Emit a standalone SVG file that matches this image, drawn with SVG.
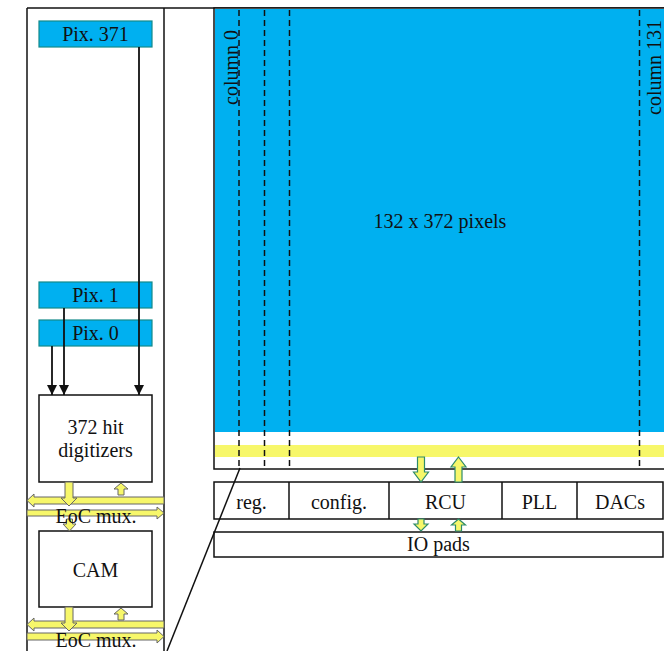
<svg xmlns="http://www.w3.org/2000/svg" width="664" height="651" viewBox="0 0 664 651">
<defs>
<style>
.t{font-family:"Liberation Serif","Times New Roman",serif;font-size:20px;fill:#111;text-anchor:middle}
.rot{font-family:"Liberation Serif","Times New Roman",serif;font-size:20px;fill:#111}
.ln{stroke:#111;stroke-width:1.5;fill:none}
.box{fill:#fff;stroke:#111;stroke-width:1.5}
.pix{fill:#00b0f0;stroke:#138a8a;stroke-width:1.2}
.dash{stroke:#111;stroke-width:1.5;stroke-dasharray:6 4;fill:none}
.ya{fill:#f7f76a;stroke:#666;stroke-width:1}
.ga{fill:#f7f76a;stroke:#2e8b6a;stroke-width:1.2}
.wire{stroke:#111;stroke-width:1.8;fill:none}
</style>
<marker id="ah" viewBox="0 0 10 10" refX="10" refY="5" markerWidth="10" markerHeight="10" markerUnits="userSpaceOnUse" orient="auto">
<path d="M0,0 L10,5 L0,10 z" fill="#111"/>
</marker>
</defs>
<rect width="664" height="651" fill="#fff"/>

<g id="frame">
<line class="ln" x1="27" y1="8" x2="664" y2="8"/>
<line class="ln" x1="27" y1="8" x2="27" y2="651"/>
<line class="ln" x1="164" y1="8" x2="164" y2="651"/>
</g>

<g id="pixel-array">
<rect x="214" y="8" width="452" height="461" fill="#fff" stroke="#111" stroke-width="1.5"/>
<rect x="215" y="9" width="450" height="423" fill="#00b0f0"/>
<rect x="215" y="445" width="450" height="12" fill="#f7f76a"/>
<line class="dash" x1="239" y1="10" x2="239" y2="468"/>
<line class="dash" x1="264.5" y1="10" x2="264.5" y2="468"/>
<line class="dash" x1="289.5" y1="10" x2="289.5" y2="468"/>
<line class="dash" x1="639.5" y1="10" x2="639.5" y2="468"/>
<text class="rot" transform="translate(238,105) rotate(-90)">column 0</text>
<text class="rot" transform="translate(661,115) rotate(-90)">column 131</text>
<text class="t" x="440" y="228">132 x 372 pixels</text>
</g>

<g id="periphery">
<rect class="box" x="214" y="482" width="449" height="37"/>
<line class="ln" x1="289" y1="482" x2="289" y2="519"/>
<line class="ln" x1="389" y1="482" x2="389" y2="519"/>
<line class="ln" x1="502" y1="482" x2="502" y2="519"/>
<line class="ln" x1="577" y1="482" x2="577" y2="519"/>
<text class="t" x="251.5" y="509">reg.</text>
<text class="t" x="339" y="509">config.</text>
<text class="t" x="445.5" y="509">RCU</text>
<text class="t" x="539.5" y="509">PLL</text>
<text class="t" x="620" y="509">DACs</text>
</g>

<g id="io-pads">
<rect class="box" x="214" y="532" width="449" height="25"/>
<text class="t" x="438.5" y="551">IO pads</text>
</g>

<g id="pix371">
<rect class="pix" x="39" y="21" width="113" height="26"/>
<text class="t" x="95.5" y="41">Pix. 371</text>
</g>
<g id="pix1">
<rect class="pix" x="39" y="282" width="113" height="26"/>
<text class="t" x="95.5" y="302">Pix. 1</text>
</g>
<g id="pix0">
<rect class="pix" x="39" y="320" width="113" height="26"/>
<text class="t" x="95.5" y="340">Pix. 0</text>
</g>
<g id="digitizers">
<rect class="box" x="39" y="395" width="113" height="87"/>
<text class="t" x="95.5" y="434">372 hit</text>
<text class="t" x="95.5" y="457">digitizers</text>
</g>
<g id="cam">
<rect class="box" x="39" y="531" width="113" height="76"/>
<text class="t" x="95.5" y="577">CAM</text>
</g>

<g id="connectors">
<line class="wire" x1="139" y1="47" x2="139" y2="395" marker-end="url(#ah)"/>
<line class="wire" x1="64" y1="308" x2="64" y2="395" marker-end="url(#ah)"/>
<line class="wire" x1="52" y1="346" x2="52" y2="395" marker-end="url(#ah)"/>
<line class="ln" x1="240" y1="468" x2="167" y2="651"/>
<polygon class="ga" points="417.5,457 424.5,457 424.5,472 428.5,472 421,482 413.5,472 417.5,472"/>
<polygon class="ga" points="458.5,457 466,467 462,467 462,482 455,482 455,467 451,467"/>
<polygon class="ga" points="418,519 424,519 424,524 428,524 421,531 414,524 418,524"/>
<polygon class="ga" points="458.5,519 465.5,525 461.5,525 461.5,531 455.5,531 455.5,525 451.5,525"/>
</g>

<g id="eoc-mux-1">
<polygon class="ya" points="164,497 34,497 34,494 27,500.5 34,507 34,504 164,504"/>
<polygon class="ya" points="27,510 157,510 157,507 164,513 157,519 157,516 27,516"/>
<polygon class="ya" points="65,482 73,482 73,498 77,498 69,506 61,498 65,498"/>
<polygon class="ya" points="66.5,519 72.5,519 72.5,524 76,524 69.5,531 63,524 66.5,524"/>
<polygon class="ya" points="121,483 128,489 124,489 124,495 118,495 118,489 114,489"/>
<text class="t" x="96" y="523">EoC mux.</text>
</g>

<g id="eoc-mux-2">
<polygon class="ya" points="164,621 34,621 34,618 27,624.5 34,631 34,628 164,628"/>
<polygon class="ya" points="27,633 157,633 157,630 164,636.5 157,643 157,640 27,640"/>
<polygon class="ya" points="65,607 73,607 73,623 77,623 69,631 61,623 65,623"/>
<polygon class="ya" points="121,608 128,614 124,614 124,620 118,620 118,614 114,614"/>
<text class="t" x="96" y="647">EoC mux.</text>
</g>
</svg>
